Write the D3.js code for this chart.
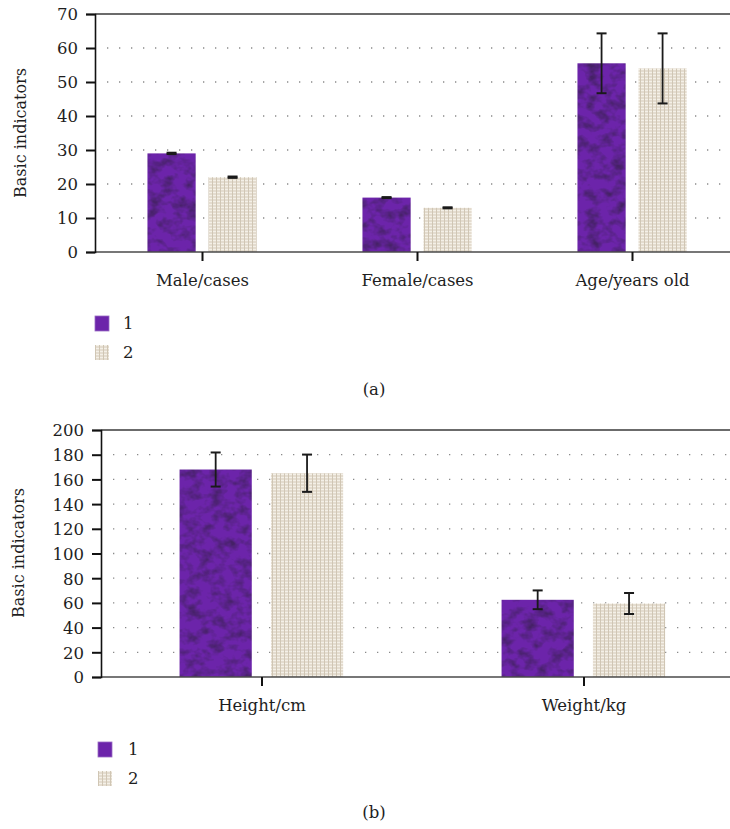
<!DOCTYPE html>
<html>
  <head>
    <meta charset="utf-8">
    <title>Basic indicators</title>
    <style>
      body { margin: 0; background: #fff; }
      text { font-family: "DejaVu Serif", serif; fill: #1e1e1e; }
    </style>
  </head>
  <body>
    <script src="https://d3js.org/d3.v7.min.js"></script>
    <script>

    // panel (a)
    var catsA = ["Male/cases", "Female/cases", "Age/years old"];
    var groupOneA = [29, 16, 55.5];
    var groupOneErrA = [0.2, 0.15, 8.8];
    var groupTwoA = [22, 13, 54];
    var groupTwoErrA = [0.2, 0.15, 10.3];
    var ticksA = [0, 10, 20, 30, 40, 50, 60, 70];

    // panel (b)
    var catsB = ["Height/cm", "Weight/kg"];
    var groupOneB = [168, 62.5];
    var groupOneErrB = [13.8, 7.6];
    var groupTwoB = [165, 59.5];
    var groupTwoErrB = [15.1, 8.5];
    var ticksB = [0, 20, 40, 60, 80, 100, 120, 140, 160, 180, 200];

    var seriesNames = ["1", "2"];

    var svg = d3.select("body").append("svg")
        .attr("width", 730)
        .attr("height", 829);

    // textures for the two groups
    var defs = svg.append("defs");

    var tex = defs.append("filter").attr("id", "purpleTex")
        .attr("x", 0).attr("y", 0).attr("width", 1).attr("height", 1)
        .attr("color-interpolation-filters", "sRGB");
    tex.append("feTurbulence")
        .attr("type", "fractalNoise")
        .attr("baseFrequency", "0.08 0.1")
        .attr("numOctaves", 3)
        .attr("seed", 7)
        .attr("result", "noise");
    tex.append("feColorMatrix")
        .attr("in", "noise")
        .attr("type", "matrix")
        .attr("values", "0 0 0 0 0.27  0 0 0 0 0.13  0 0 0 0 0.40  2.4 0 0 0 -1.0")
        .attr("result", "dark");
    tex.append("feComposite")
        .attr("in", "dark")
        .attr("in2", "SourceGraphic")
        .attr("operator", "atop");

    var weave = defs.append("pattern").attr("id", "beigeTex")
        .attr("patternUnits", "userSpaceOnUse")
        .attr("width", 4).attr("height", 3);
    weave.append("rect").attr("width", 4).attr("height", 3).attr("fill", "#e4dccf");
    weave.append("rect").attr("width", 4).attr("height", 1).attr("fill", "#f4f0e7");
    weave.append("rect").attr("width", 1).attr("height", 3).attr("fill", "#d0c6b4");

    var fills = ["#6c24aa", "url(#beigeTex)"];

    function drawPanel(p) {
      var g = svg.append("g");

      var x0 = d3.scaleBand()
          .domain(p.cats)
          .range([p.left, p.right]);
      var bw = x0.bandwidth();
      var x1 = d3.scaleBand()
          .domain(seriesNames)
          .range([-0.256 * bw, 0.252 * bw])
          .paddingInner(0.21);
      var y = d3.scaleLinear()
          .domain([0, p.max])
          .range([p.bottom, p.top]);

      // dotted grid
      g.selectAll(".grid")
          .data(p.ticks.filter(function(d) { return d > 0 && d < p.max; }))
          .enter().append("line")
          .attr("x1", p.left + 12).attr("x2", 730)
          .attr("y1", function(d) { return y(d); })
          .attr("y2", function(d) { return y(d); })
          .attr("stroke", "#8a8a8a")
          .attr("stroke-width", 1.3)
          .attr("stroke-dasharray", "1.3,10.7");

      // top frame line
      g.append("line")
          .attr("x1", p.left).attr("x2", 730)
          .attr("y1", y(p.max)).attr("y2", y(p.max))
          .attr("stroke", "#3a3a3a").attr("stroke-width", 1.5);

      var rows = p.cats.map(function(c, i) {
        return [
          {cat: c, s: "1", v: p.one[i], e: p.oneErr[i]},
          {cat: c, s: "2", v: p.two[i], e: p.twoErr[i]}
        ];
      });
      var flat = [].concat.apply([], rows);

      g.selectAll(".bar")
          .data(flat)
          .enter().append("rect")
          .attr("class", "bar")
          .attr("x", function(d) { return x0(d.cat) + bw / 2 + x1(d.s); })
          .attr("width", x1.bandwidth())
          .attr("y", function(d) { return y(d.v); })
          .attr("height", function(d) { return y(0) - y(d.v); })
          .attr("fill", function(d) { return d.s == "1" ? fills[0] : fills[1]; })
          .attr("filter", function(d) { return d.s == "1" ? "url(#purpleTex)" : null; });

      // error bars
      var eb = g.selectAll(".err")
          .data(flat)
          .enter().append("g")
          .attr("transform", function(d) {
            return "translate(" + (x0(d.cat) + bw / 2 + x1(d.s) + x1.bandwidth() / 2) + ",0)";
          });
      eb.append("line")
          .attr("y1", function(d) { return y(d.v + d.e); })
          .attr("y2", function(d) { return y(d.v - d.e); })
          .attr("stroke", "#1a1a1a").attr("stroke-width", 1.8);
      eb.selectAll(".cap")
          .data(function(d) { return [d.v + d.e, d.v - d.e]; })
          .enter().append("line")
          .attr("x1", -5).attr("x2", 5)
          .attr("y1", function(d) { return y(d); })
          .attr("y2", function(d) { return y(d); })
          .attr("stroke", "#1a1a1a").attr("stroke-width", 2);

      // x axis line
      g.append("line")
          .attr("x1", p.left).attr("x2", 730)
          .attr("y1", y(0)).attr("y2", y(0))
          .attr("stroke", "#4a4a4a").attr("stroke-width", 1.5);

      // y axis
      var yAxis = g.append("g")
          .attr("transform", "translate(" + p.left + ",0)")
          .call(d3.axisLeft(y).tickValues(p.ticks).tickSize(9).tickPadding(8));
      yAxis.select(".domain").attr("stroke", "#111").attr("stroke-width", 1.6);
      yAxis.selectAll(".tick line").attr("stroke", "#111").attr("stroke-width", 2);
      yAxis.selectAll(".tick text")
          .style("font-family", "DejaVu Serif")
          .style("font-size", "16.5px")
          .attr("fill", "#1e1e1e")
          .attr("dy", "0.36em");

      // x axis ticks and labels
      var xAxis = g.append("g")
          .attr("transform", "translate(0," + y(0) + ")")
          .call(d3.axisBottom(x0).tickSize(9).tickPadding(13));
      xAxis.select(".domain").remove();
      xAxis.selectAll(".tick line").attr("stroke", "#111").attr("stroke-width", 2);
      xAxis.selectAll(".tick text")
          .style("font-family", "DejaVu Serif")
          .style("font-size", "16.5px")
          .attr("fill", "#1e1e1e");

      // y title
      g.append("text")
          .attr("transform", "translate(" + p.titleX + "," + p.titleY + ") rotate(-90)")
          .attr("text-anchor", "middle")
          .attr("dy", "0.35em")
          .style("font-size", "16px")
          .text("Basic indicators");

      // legend
      var lg = g.selectAll(".leg")
          .data(seriesNames)
          .enter().append("g")
          .attr("transform", function(d, i) {
            return "translate(" + p.legX + "," + (p.legY + i * 29) + ")";
          });
      lg.append("rect")
          .attr("width", 14).attr("height", 15)
          .attr("fill", function(d, i) { return fills[i]; })
          .attr("stroke", function(d, i) { return i == 0 ? "#9a6cc4" : "none"; })
          .attr("stroke-width", 0.8);
      lg.append("text")
          .attr("x", p.legTextDx)
          .attr("y", 13)
          .style("font-size", "16.5px")
          .text(function(d) { return d; });

      // panel caption
      g.append("text")
          .attr("x", 374)
          .attr("y", p.capY)
          .attr("text-anchor", "middle")
          .style("font-size", "16.5px")
          .text(p.caption);
    }

    drawPanel({
      cats: catsA, one: groupOneA, oneErr: groupOneErrA,
      two: groupTwoA, twoErr: groupTwoErrA, ticks: ticksA, max: 70,
      left: 95, right: 740, top: 14, bottom: 252,
      titleX: 20, titleY: 133,
      legX: 95, legY: 316, legTextDx: 28,
      capY: 395, caption: "(a)"
    });

    drawPanel({
      cats: catsB, one: groupOneB, oneErr: groupOneErrB,
      two: groupTwoB, twoErr: groupTwoErrB, ticks: ticksB, max: 200,
      left: 101, right: 745, top: 430, bottom: 677,
      titleX: 18, titleY: 553,
      legX: 98, legY: 742, legTextDx: 30,
      capY: 818, caption: "(b)"
    });

    </script>
  </body>
</html>
